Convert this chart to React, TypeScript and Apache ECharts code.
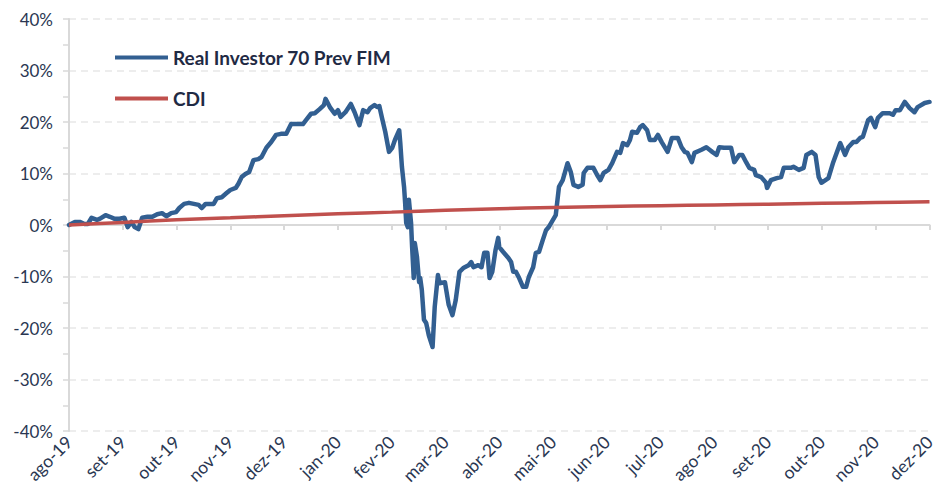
import React, { useEffect, useRef } from "react";
import * as echarts from "echarts";

const monthLabels = [
  "ago-19", "set-19", "out-19", "nov-19", "dez-19", "jan-20", "fev-20", "mar-20", "abr-20",
  "mai-20", "jun-20", "jul-20", "ago-20", "set-20", "out-20", "nov-20", "dez-20",
];

const yTicks = [-40, -30, -20, -10, 0, 10, 20, 30, 40];

// time position in months since ago-19
const fundT = [
  0, 0.11, 0.2, 0.29, 0.35, 0.42, 0.52, 0.57, 0.68, 0.76, 0.85, 0.94, 1.03, 1.09, 1.16, 1.22, 1.29,
  1.36, 1.46, 1.55, 1.64, 1.73, 1.81, 1.9, 1.99, 2.05, 2.14, 2.23, 2.32, 2.41, 2.47, 2.54, 2.69,
  2.75, 2.84, 2.93, 3.0, 3.1, 3.15, 3.21, 3.28, 3.35, 3.43, 3.52, 3.58, 3.67, 3.76, 3.85, 3.94,
  4.04, 4.13, 4.22, 4.35, 4.41, 4.5, 4.57, 4.66, 4.74, 4.77, 4.85, 4.94, 5.0, 5.05, 5.14, 5.24,
  5.31, 5.4, 5.47, 5.55, 5.6, 5.68, 5.73, 5.77, 5.82, 5.88, 5.95, 6.01, 6.06, 6.14, 6.16, 6.19,
  6.23, 6.25, 6.27, 6.3, 6.32, 6.36, 6.38, 6.41, 6.43, 6.47, 6.51, 6.53, 6.56, 6.6, 6.64, 6.69,
  6.76, 6.8, 6.86, 6.89, 6.99, 7.06, 7.13, 7.19, 7.26, 7.34, 7.43, 7.48, 7.52, 7.61, 7.67, 7.72,
  7.78, 7.82, 7.87, 7.93, 7.98, 8.0, 8.07, 8.17, 8.22, 8.26, 8.31, 8.37, 8.44, 8.5, 8.55, 8.63,
  8.68, 8.74, 8.81, 8.87, 8.92, 9.05, 9.11, 9.18, 9.27, 9.33, 9.38, 9.47, 9.55, 9.57, 9.64, 9.75,
  9.82, 9.88, 9.94, 10.03, 10.1, 10.19, 10.25, 10.3, 10.38, 10.43, 10.47, 10.56, 10.62, 10.67,
  10.75, 10.8, 10.89, 10.95, 11.02, 11.13, 11.21, 11.32, 11.39, 11.45, 11.5, 11.58, 11.63, 11.76,
  11.85, 11.91, 11.96, 12.04, 12.09, 12.18, 12.31, 12.37, 12.46, 12.52, 12.59, 12.65, 12.74,
  12.77, 12.87, 12.96, 12.98, 13.05, 13.16, 13.24, 13.29, 13.42, 13.47, 13.57, 13.66, 13.71,
  13.81, 13.88, 13.94, 13.99, 14.12, 14.21, 14.34, 14.43, 14.49, 14.58, 14.64, 14.71, 14.76,
  14.86, 14.91, 14.99, 15.04, 15.13, 15.26, 15.32, 15.37, 15.45, 15.54, 15.63, 15.72, 15.78,
  15.91, 16.0,
];

// Real Investor 70 Prev FIM, accumulated return in %
const fundV = [
  0, 0.6, 0.6, 0.2, 0.2, 1.4, 1.0, 1.2, 1.9, 1.6, 1.2, 1.2, 1.4, -0.4, 0.6, -0.4, -0.8,
  1.4, 1.6, 1.6, 2.1, 2.3, 1.7, 2.3, 2.5, 3.3, 4.1, 4.3, 4.1, 3.9, 3.3, 4.1, 4.1,
  5.2, 5.4, 6.2, 6.8, 7.2, 8.0, 9.3, 9.9, 10.3, 12.6, 12.8, 13.2, 15.0, 16.1, 17.5, 17.7,
  17.7, 19.6, 19.6, 19.6, 20.4, 21.6, 21.7, 22.5, 23.3, 24.5, 22.9, 21.6, 22.3, 21.0, 21.9, 23.5,
  21.9, 19.4, 22.3, 21.9, 22.7, 23.3, 22.9, 23.1, 20.8, 18.1, 14.2, 15.0, 16.5, 18.4, 15.9, 11.3,
  7.4, 4.3, 0.4, -0.4, 4.9, 0.4, -4.3, -10.3, -3.5, -6.2, -11.1, -10.3, -12.6, -18.4, -19.0, -21.4,
  -23.7, -15.9, -9.7, -11.3, -11.1, -15.5, -17.5, -14.6, -9.1, -8.3, -7.8, -7.2, -8.2, -7.8, -8.2, -5.4,
  -5.4, -10.3, -9.1, -4.9, -2.5, -4.3, -5.2, -6.4, -7.2, -9.1, -9.1, -10.3, -12.0, -12.0, -10.1, -8.2,
  -5.4, -5.2, -2.9, -1.0, -0.4, 1.9, 7.4, 8.7, 12.0, 10.3, 7.8, 7.4, 7.8, 10.1, 11.1, 11.1,
  9.7, 8.7, 10.1, 10.7, 12.0, 14.2, 14.0, 15.9, 15.5, 16.5, 18.1, 17.9, 19.0, 19.4,
  18.4, 16.5, 16.5, 17.5, 16.1, 14.2, 16.9, 16.9, 15.1, 14.2, 14.0, 12.2, 14.0, 14.6,
  15.1, 14.6, 14.2, 13.6, 15.1, 15.0, 15.0, 12.2, 13.6, 13.6, 12.2, 11.1, 10.7,
  9.7, 9.3, 8.2, 7.2, 8.7, 9.1, 9.3, 11.1, 11.1, 11.3, 10.7, 11.1, 13.6,
  14.2, 13.6, 9.3, 8.2, 9.1, 12.2, 15.9, 13.6, 15.1, 16.1, 16.1, 16.9, 17.1,
  20.4, 20.8, 19.0, 20.8, 21.7, 21.7, 21.4, 22.3, 22.3, 23.9, 22.7, 21.9, 22.9,
  23.7, 23.9,
];

const cdiT = [0, 1, 2, 3, 4, 5, 6, 7, 8, 9, 10, 11, 12, 13, 14, 15, 16];
const cdiV = [0, 0.5, 1.0, 1.4, 1.8, 2.2, 2.5, 2.85, 3.15, 3.4, 3.6, 3.75, 3.9, 4.05, 4.2, 4.35, 4.5];

const FONT = "Lato, 'Noto Sans', sans-serif";
const TEXT = "#2a3752";

export default function App() {
  const ref = useRef<HTMLDivElement>(null);
  useEffect(() => {
    if (!ref.current) return;
    const chart = echarts.init(ref.current, undefined, { renderer: "svg" });
    const fund = fundT.map((t, i) => [t, fundV[i]]);
    const cdi = cdiT.map((t, i) => [t, cdiV[i]]);
    chart.setOption({
      animation: false,
      backgroundColor: "#ffffff",
      textStyle: { fontFamily: FONT },
      grid: { left: 69, right: 1, top: 19, bottom: 59, containLabel: false },
      legend: {
        orient: "vertical",
        left: 115,
        top: 48,
        padding: 0,
        itemWidth: 53,
        itemHeight: 4,
        itemGap: 22,
        icon: "rect",
        textStyle: { fontFamily: FONT, fontSize: 19, fontWeight: "bold", color: "#1f2a44" },
        data: ["Real Investor 70 Prev FIM", "CDI"],
      },
      xAxis: [
        {
          type: "value",
          position: "bottom",
          min: 0,
          max: 16,
          interval: 1,
          axisLine: { show: true, onZero: true, lineStyle: { color: "#d9d9d9", width: 2 } },
          axisTick: { show: true, length: 5, lineStyle: { color: "#d9d9d9", width: 2 } },
          axisLabel: { show: false },
          splitLine: { show: false },
        },
        {
          type: "value",
          position: "bottom",
          min: 0,
          max: 16,
          interval: 1,
          axisLine: { show: false, onZero: false },
          axisTick: { show: false },
          splitLine: { show: false },
          axisLabel: {
            show: true,
            rotate: 45,
            margin: 8,
            fontFamily: FONT,
            fontSize: 17.5,
            color: TEXT,
            showMinLabel: true,
            showMaxLabel: true,
            formatter: (v: number) => monthLabels[Math.round(v)] ?? "",
          },
        },
      ],
      yAxis: {
        type: "value",
        min: yTicks[0],
        max: yTicks[yTicks.length - 1],
        interval: 10,
        axisLine: { show: true, onZero: false, lineStyle: { color: "#d9d9d9", width: 2 } },
        axisTick: { show: true, length: 6, lineStyle: { color: "#d9d9d9", width: 1.5 } },
        minorTick: { show: true, splitNumber: 2, length: 6, lineStyle: { color: "#d9d9d9", width: 1.5 } },
        axisLabel: {
          margin: 16,
          fontFamily: FONT,
          fontSize: 17,
          color: TEXT,
          formatter: (v: number) => `${v}%`,
        },
        splitLine: { show: true, lineStyle: { color: "#e8e8e8", width: 1.5, type: [7, 5] } },
      },
      series: [
        {
          name: "Real Investor 70 Prev FIM",
          type: "line",
          data: fund,
          xAxisIndex: 0,
          showSymbol: false,
          symbol: "none",
          lineStyle: { color: "#325f91", width: 4.5, join: "round", cap: "round" },
          itemStyle: { color: "#325f91" },
          z: 3,
        },
        {
          name: "CDI",
          type: "line",
          data: cdi,
          xAxisIndex: 0,
          showSymbol: false,
          symbol: "none",
          smooth: 0.3,
          lineStyle: { color: "#c0504d", width: 3.5 },
          itemStyle: { color: "#c0504d" },
          z: 4,
        },
      ],
    });
    return () => chart.dispose();
  }, []);
  return <div ref={ref} style={{ width: 938, height: 490, position: "absolute", left: 0, top: 0 }} />;
}
